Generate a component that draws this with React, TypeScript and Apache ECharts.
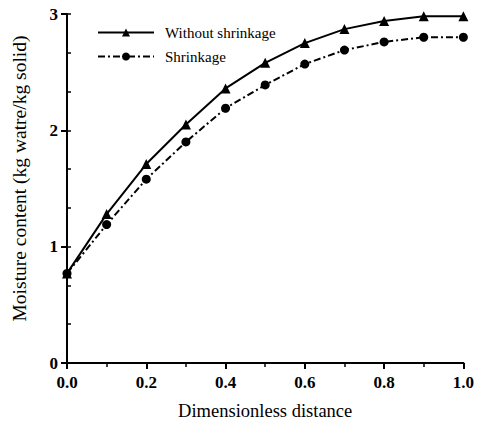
import React, { useEffect, useRef } from "react";
import * as echarts from "echarts";

const xValues = [0, 0.1, 0.2, 0.3, 0.4, 0.5, 0.6, 0.7, 0.8, 0.9, 1.0];
const withoutShrinkage = [0.77, 1.28, 1.71, 2.05, 2.36, 2.58, 2.75, 2.87, 2.94, 2.98, 2.98];
const shrinkage = [0.77, 1.19, 1.58, 1.9, 2.19, 2.39, 2.57, 2.69, 2.76, 2.8, 2.8];
const seriesNames = ["Without shrinkage", "Shrinkage"];
const xAxisTitle = "Dimensionless distance";
const yAxisTitle = "Moisture content (kg watre/kg solid)";

const FONT = "'Liberation Serif', 'Times New Roman', serif";

export default function App() {
  const ref = useRef<HTMLDivElement>(null);
  useEffect(() => {
    if (!ref.current) return;
    const chart = echarts.init(ref.current, null, { renderer: "svg" });
    const pair = (ys: number[]) => xValues.map((x, i) => [x, ys[i]]);
    chart.setOption({
      animation: false,
      backgroundColor: "#fff",
      textStyle: { fontFamily: FONT },
      grid: { left: 67, right: 10, top: 14, bottom: 62 },
      legend: {
        orient: "vertical",
        left: 92,
        top: 20,
        itemWidth: 56,
        itemHeight: 10,
        itemGap: 9,
        data: seriesNames,
        textStyle: { fontFamily: FONT, fontSize: 15, color: "#000", padding: [0, 0, 0, 6] },
      },
      xAxis: {
        type: "value",
        min: 0,
        max: 1,
        interval: 0.2,
        name: xAxisTitle,
        nameLocation: "middle",
        nameGap: 38,
        nameTextStyle: { fontFamily: FONT, fontSize: 18.5, color: "#000" },
        axisLine: { lineStyle: { color: "#000", width: 2 } },
        axisTick: { show: true, length: 6, lineStyle: { color: "#000", width: 2 } },
        minorTick: { show: true, splitNumber: 2, length: 4, lineStyle: { color: "#000", width: 1.5 } },
        axisLabel: {
          fontFamily: FONT,
          fontSize: 17,
          fontWeight: "bold",
          color: "#000",
          margin: 11,
          formatter: (v: number) => v.toFixed(1),
        },
        splitLine: { show: false },
      },
      yAxis: [
        {
          type: "value",
          min: 0,
          max: 3,
          interval: 1,
          name: yAxisTitle,
          nameLocation: "middle",
          nameGap: 38,
          nameTextStyle: { fontFamily: FONT, fontSize: 19.5, color: "#000", padding: [0, 0, 0, 20] },
          axisLine: { show: true, lineStyle: { color: "#000", width: 2 } },
          axisTick: { show: true, length: 6, lineStyle: { color: "#000", width: 2 } },
          axisLabel: { fontFamily: FONT, fontSize: 17, fontWeight: "bold", color: "#000", margin: 9 },
          splitLine: { show: false },
        },
        {
          type: "value",
          min: 0,
          max: 3,
          interval: 1 / 3,
          position: "left",
          axisLine: { show: false },
          axisTick: { show: true, inside: true, length: 4, lineStyle: { color: "#000", width: 1.5 } },
          axisLabel: { show: false },
          splitLine: { show: false },
        },
      ],
      series: [
        {
          name: seriesNames[0],
          type: "line",
          data: pair(withoutShrinkage),
          symbol: "triangle",
          symbolSize: 10,
          color: "#000",
          lineStyle: { color: "#000", width: 2, type: "solid" },
          itemStyle: { color: "#000" },
        },
        {
          name: seriesNames[1],
          type: "line",
          data: pair(shrinkage),
          symbol: "circle",
          symbolSize: 9,
          color: "#000",
          lineStyle: { color: "#000", width: 2, type: [7, 3, 2, 3] },
          itemStyle: { color: "#000" },
        },
      ],
    });
    return () => chart.dispose();
  }, []);
  return (
    <div
      ref={ref}
      style={{ width: 477, height: 425, position: "fixed", left: 0, top: 0 }}
    />
  );
}
